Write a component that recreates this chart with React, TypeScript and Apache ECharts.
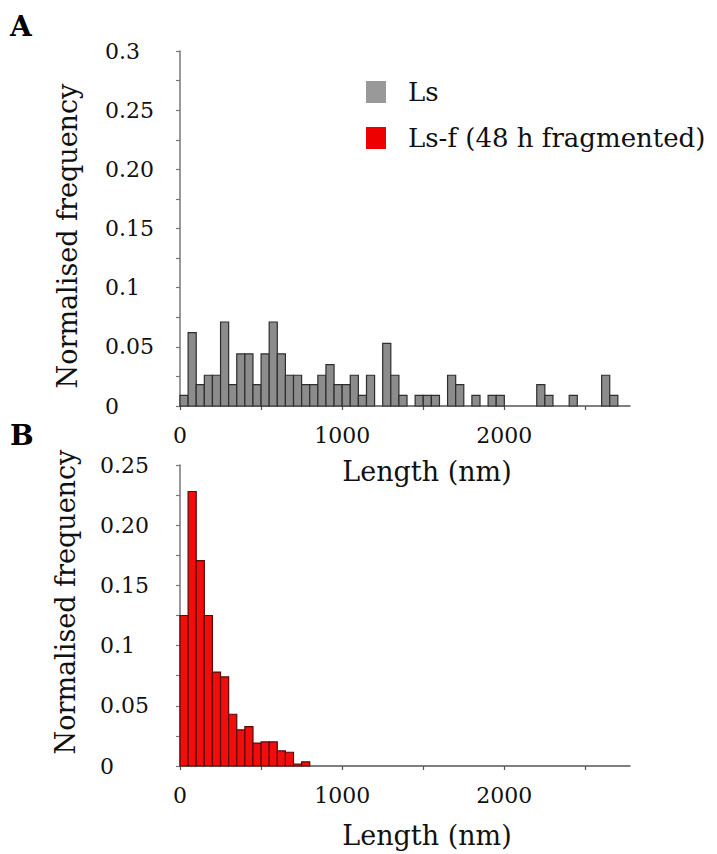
import React, { useEffect, useRef } from "react";
import * as echarts from "echarts";

// Histogram bin width (nm)
const BIN_NM = 50;

// Panel A: Ls, normalised frequency per 50 nm bin (starting at 0 nm)
const lsValues = [
  0.009, 0.062, 0.018, 0.026, 0.026, 0.071, 0.018, 0.044, 0.044, 0.018,
  0.044, 0.071, 0.044, 0.026, 0.026, 0.018, 0.018, 0.026, 0.035, 0.018,
  0.018, 0.026, 0.009, 0.026, 0, 0.053, 0.026, 0.009, 0, 0.009,
  0.009, 0.009, 0, 0.026, 0.018, 0, 0.009, 0, 0.009, 0.009,
  0, 0, 0, 0, 0.018, 0.009, 0, 0, 0.009, 0,
  0, 0, 0.026, 0.009,
];

// Panel B: Ls-f (48 h fragmented)
const lsfValues = [
  0.125, 0.228, 0.1705, 0.125, 0.078, 0.074, 0.043, 0.030, 0.0327, 0.019,
  0.020, 0.020, 0.0125, 0.0114, 0.0015, 0.0035,
];

const xTickValues = [0, 500, 1000, 1500, 2000, 2500];
const xLabelValues = [0, 1000, 2000];
const yLabelsA: Record<number, string> = { 0: "0", 50: "0.05", 100: "0.1", 150: "0.15", 200: "0.20", 250: "0.25", 300: "0.3" };
const yLabelsB: Record<number, string> = { 0: "0", 50: "0.05", 100: "0.1", 150: "0.15", 200: "0.20", 250: "0.25" };

const FONT = "DejaVu Serif";

function toBins(values: number[]) {
  return values.map((v, i) => [i * BIN_NM, (i + 1) * BIN_NM, v]);
}

function makeRender(fill: string, stroke: string) {
  return (_params: any, api: any) => {
    const x0 = api.value(0);
    const x1 = api.value(1);
    const v = api.value(2);
    if (!v) return null;
    const p0 = api.coord([x0, v]);
    const p1 = api.coord([x1, 0]);
    return {
      type: "rect",
      shape: { x: p0[0], y: p0[1], width: p1[0] - p0[0], height: p1[1] - p0[1] },
      style: { fill, stroke, lineWidth: 1.2 },
    };
  };
}

function xAxisCfg(gridIndex: number, nameGap: number) {
  return {
    type: "value",
    gridIndex,
    min: 0,
    max: 2775,
    name: "Length (nm)",
    nameLocation: "middle",
    nameGap,
    nameTextStyle: { fontFamily: FONT, fontSize: 27, color: "#111", padding: [0, 0, 0, 44] },
    axisLine: { show: true, lineStyle: { color: "#555", width: 1.5 } },
    axisTick: { show: true, length: 4, customValues: xTickValues, lineStyle: { color: "#555", width: 1.2 } },
    axisLabel: {
      customValues: xLabelValues,
      margin: 18,
      fontFamily: FONT,
      fontSize: 22,
      color: "#111",
      formatter: (v: number) => String(v),
    },
    splitLine: { show: false },
  };
}

function yAxisCfg(gridIndex: number, max: number, labels: Record<number, string>, margin: number) {
  return {
    type: "value",
    gridIndex,
    min: 0,
    max,
    interval: 0.025,
    axisLine: { show: true, lineStyle: { color: "#777", width: 1.5 } },
    axisTick: { show: true, length: 4, lineStyle: { color: "#777", width: 1.2 } },
    axisLabel: {
      margin,
      align: "left",
      fontFamily: FONT,
      fontSize: 22,
      color: "#111",
      formatter: (v: number) => {
        const k = Math.round(v * 1000);
        return labels[k] !== undefined ? labels[k] : "";
      },
    },
    splitLine: { show: false },
  };
}

export default function App() {
  const ref = useRef<HTMLDivElement>(null);

  useEffect(() => {
    if (!ref.current) return;
    const chart = echarts.init(ref.current, undefined, { renderer: "svg" });
    chart.setOption({
      animation: false,
      backgroundColor: "#ffffff",
      grid: [
        { left: 180, top: 51, width: 450, height: 355 },
        { left: 180, top: 465, width: 450, height: 301 },
      ],
      xAxis: [xAxisCfg(0, 52), xAxisCfg(1, 56)],
      yAxis: [yAxisCfg(0, 0.3, yLabelsA, 75), yAxisCfg(1, 0.25, yLabelsB, 80)],
      legend: {
        orient: "vertical",
        left: 361,
        top: 73,
        itemWidth: 20,
        itemHeight: 22,
        itemGap: 18,
        icon: "rect",
        selectedMode: false,
        textStyle: { fontFamily: FONT, fontSize: 26, color: "#111", lineHeight: 28, padding: [0, 0, 0, 17] },
        data: [
          { name: "Ls", itemStyle: { color: "#999999", borderWidth: 0 } },
          { name: "Ls-f (48 h fragmented)", itemStyle: { color: "#ee0000", borderWidth: 0 } },
        ],
      },
      graphic: [
        { type: "text", left: 10, top: 12, style: { text: "A", font: `bold 28px "${FONT}"`, fill: "#000" } },
        { type: "text", left: 10, top: 421, style: { text: "B", font: `bold 28px "${FONT}"`, fill: "#000" } },
        {
          type: "text",
          x: 67,
          y: 236,
          rotation: Math.PI / 2,
          style: { text: "Normalised frequency", font: `27px "${FONT}"`, fill: "#111", align: "center", verticalAlign: "middle" },
        },
        {
          type: "text",
          x: 65,
          y: 602,
          rotation: Math.PI / 2,
          style: { text: "Normalised frequency", font: `27px "${FONT}"`, fill: "#111", align: "center", verticalAlign: "middle" },
        },
      ],
      series: [
        {
          name: "Ls",
          type: "custom",
          xAxisIndex: 0,
          yAxisIndex: 0,
          itemStyle: { color: "#8c8c8c" },
          encode: { x: [0, 1], y: 2 },
          data: toBins(lsValues),
          renderItem: makeRender("#8c8c8c", "#2e2e2e"),
        },
        {
          name: "Ls-f (48 h fragmented)",
          type: "custom",
          xAxisIndex: 1,
          yAxisIndex: 1,
          itemStyle: { color: "#ee0000" },
          encode: { x: [0, 1], y: 2 },
          data: toBins(lsfValues),
          renderItem: makeRender("#f20c0c", "#5a0808"),
        },
      ],
    });
    return () => chart.dispose();
  }, []);

  return <div ref={ref} style={{ position: "absolute", left: 0, top: 0, width: 717, height: 854 }} />;
}
